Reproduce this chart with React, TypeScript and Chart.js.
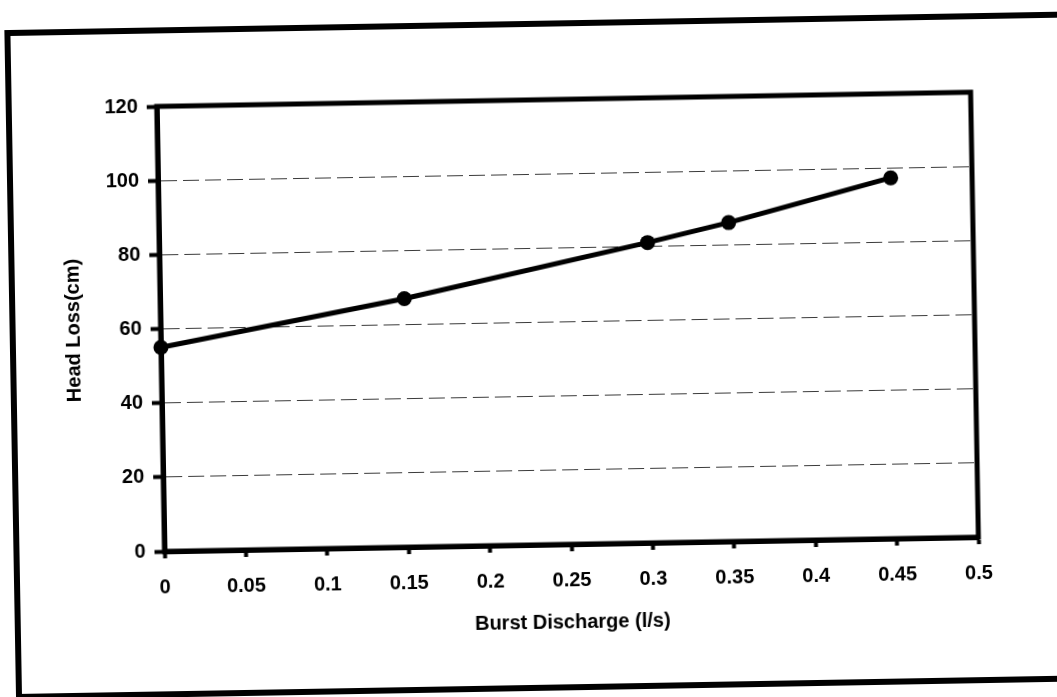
import { useEffect, useRef } from 'react';
import { Chart, registerables } from 'chart.js';

Chart.register(...registerables);

// ---- data ----
const dischargeValues = [0, 0.15, 0.3, 0.35, 0.45];
const headLossValues = [55, 67, 81, 86, 97.3];
const xTickLabels = ['0', '0.05', '0.1', '0.15', '0.2', '0.25', '0.3', '0.35', '0.4', '0.45', '0.5'];
const yTickLabels = ['0', '20', '40', '60', '80', '100', '120'];
const xAxisTitle = 'Burst Discharge (l/s)';
const yAxisTitle = 'Head Loss(cm)';

const FONT = "'Liberation Sans', Arial, Helvetica, sans-serif";

const plotBorder = {
  id: 'plotBorder',
  beforeDatasetsDraw(chart: any) {
    const { ctx, chartArea } = chart;
    const { left, top, right, bottom } = chartArea;
    ctx.save();
    ctx.strokeStyle = '#000';
    ctx.lineWidth = 5;
    ctx.lineJoin = 'miter';
    ctx.strokeRect(left, top, right - left, bottom - top);
    ctx.restore();
  },
};

export default function App() {
  const canvasRef = useRef<HTMLCanvasElement | null>(null);

  useEffect(() => {
    if (!canvasRef.current) return;
    const xTickValues = xTickLabels.map((s) => Number(s));
    const yTickValues = yTickLabels.map((s) => Number(s));
    const chart = new Chart(canvasRef.current, {
      type: 'line',
      data: {
        datasets: [
          {
            data: dischargeValues.map((x, i) => ({ x, y: headLossValues[i] })),
            borderColor: '#000',
            backgroundColor: '#000',
            borderWidth: 5,
            pointRadius: 7.5,
            pointHoverRadius: 7.5,
            pointBackgroundColor: '#000',
            pointBorderColor: '#000',
            pointBorderWidth: 0,
            tension: 0,
            clip: false as any,
          },
        ],
      },
      options: {
        animation: false,
        responsive: false,
        events: [],
        layout: { padding: { top: 100, right: 82, left: 0, bottom: 0 } },
        plugins: {
          legend: { display: false },
          tooltip: { enabled: false },
        },
        scales: {
          x: {
            type: 'linear',
            min: 0,
            max: 0.5,
            afterBuildTicks: (scale: any) => {
              scale.ticks = xTickValues.map((v) => ({ value: v }));
            },
            afterFit: (scale: any) => {
              scale.height = 152;
            },
            ticks: {
              color: '#000',
              padding: 17,
              maxRotation: 0,
              autoSkip: false,
              font: { family: FONT, size: 20, weight: 'bold' },
              callback: (_v: any, i: number) => xTickLabels[i],
            },
            grid: {
              drawOnChartArea: false,
              drawTicks: true,
              tickLength: 7,
              tickWidth: 4,
              tickColor: '#000',
            },
            border: { color: '#000', width: 5 },
            title: {
              display: true,
              text: xAxisTitle,
              color: '#000',
              font: { family: FONT, size: 20, weight: 'bold' },
              padding: { top: 0, bottom: 62 },
            },
          },
          y: {
            type: 'linear',
            min: 0,
            max: 120,
            afterBuildTicks: (scale: any) => {
              scale.ticks = yTickValues.map((v) => ({ value: v }));
            },
            afterFit: (scale: any) => {
              scale.width = 161;
            },
            ticks: {
              color: '#000',
              padding: 9,
              autoSkip: false,
              font: { family: FONT, size: 20, weight: 'bold' },
              callback: (_v: any, i: number) => yTickLabels[i],
            },
            grid: {
              color: '#3a3a3a',
              lineWidth: 1,
              drawTicks: true,
              tickLength: 10,
              tickWidth: 4,
              tickColor: '#000',
              tickBorderDash: [],
            } as any,
            border: { color: '#000', width: 5, dash: [16, 6] },
            title: {
              display: true,
              text: yAxisTitle,
              color: '#000',
              font: { family: FONT, size: 20, weight: 'bold' },
              padding: { top: 62, bottom: 0 },
            },
          },
        },
      } as any,
      plugins: [plotBorder],
    });
    return () => chart.destroy();
  }, []);

  return (
    <div
      style={{
        position: 'fixed',
        left: 0,
        top: 0,
        width: 1057,
        height: 697,
        background: '#fff',
        transform: 'rotate(-1deg)',
        transformOrigin: '528px 348px',
      }}
    >
      <div
        style={{
          position: 'absolute',
          left: 10,
          top: 21,
          width: 1120,
          height: 670,
          boxSizing: 'border-box',
          border: '6px solid #000',
        }}
      />
      <canvas
        ref={canvasRef}
        width={1057}
        height={697}
        style={{ position: 'absolute', left: 0, top: 0, width: 1057, height: 697 }}
      />
    </div>
  );
}
